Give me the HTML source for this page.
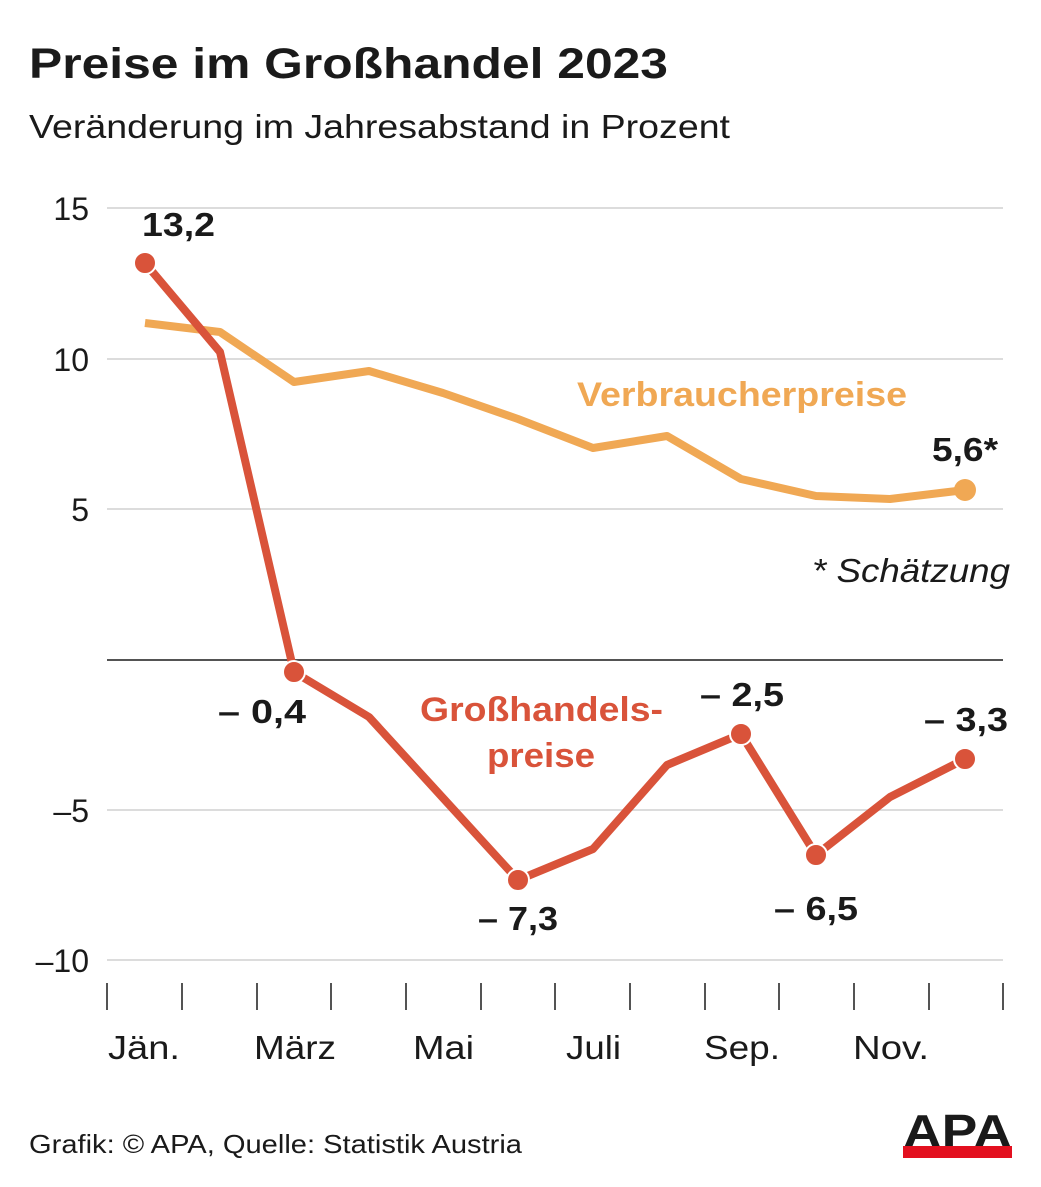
<!DOCTYPE html>
<html><head><meta charset="utf-8"><style>
html,body{margin:0;padding:0;background:#fff;}
body{width:1041px;height:1182px;overflow:hidden;font-family:"Liberation Sans",Arial,sans-serif;}
</style></head><body>
<svg width="1041" height="1182" xmlns="http://www.w3.org/2000/svg" font-family="Liberation Sans, Arial, sans-serif">
<text x="29" y="78" font-size="43" font-weight="bold" fill="#1a1a1a" textLength="639" lengthAdjust="spacingAndGlyphs">Preise im Großhandel 2023</text>
<text x="29" y="138" font-size="33" fill="#1a1a1a" textLength="701" lengthAdjust="spacingAndGlyphs">Veränderung im Jahresabstand in Prozent</text>
<g stroke="#d0d0d0" stroke-width="1.5">
<line x1="107" y1="208" x2="1003" y2="208"/>
<line x1="107" y1="359" x2="1003" y2="359"/>
<line x1="107" y1="509" x2="1003" y2="509"/>
<line x1="107" y1="810" x2="1003" y2="810"/>
<line x1="107" y1="960" x2="1003" y2="960"/>
</g>
<line x1="107" y1="660" x2="1003" y2="660" stroke="#1a1a1a" stroke-width="1.5"/>
<g font-size="32" fill="#1a1a1a" text-anchor="end">
<text x="89" y="220">15</text><text x="89" y="371">10</text><text x="89" y="521">5</text>
<text x="89" y="822">–5</text><text x="89" y="972">–10</text>
</g>
<g stroke="#1a1a1a" stroke-width="1.5">
<line x1="107" y1="983" x2="107" y2="1010"/><line x1="182" y1="983" x2="182" y2="1010"/>
<line x1="257" y1="983" x2="257" y2="1010"/><line x1="331" y1="983" x2="331" y2="1010"/>
<line x1="406" y1="983" x2="406" y2="1010"/><line x1="481" y1="983" x2="481" y2="1010"/>
<line x1="555" y1="983" x2="555" y2="1010"/><line x1="630" y1="983" x2="630" y2="1010"/>
<line x1="705" y1="983" x2="705" y2="1010"/><line x1="779" y1="983" x2="779" y2="1010"/>
<line x1="854" y1="983" x2="854" y2="1010"/><line x1="929" y1="983" x2="929" y2="1010"/>
<line x1="1003" y1="983" x2="1003" y2="1010"/>
</g>
<g font-size="33" fill="#1a1a1a">
<text x="108" y="1059" textLength="72" lengthAdjust="spacingAndGlyphs">Jän.</text>
<text x="254" y="1059" textLength="82" lengthAdjust="spacingAndGlyphs">März</text>
<text x="413" y="1059" textLength="61" lengthAdjust="spacingAndGlyphs">Mai</text>
<text x="566" y="1059" textLength="55" lengthAdjust="spacingAndGlyphs">Juli</text>
<text x="704" y="1059" textLength="76" lengthAdjust="spacingAndGlyphs">Sep.</text>
<text x="853" y="1059" textLength="76" lengthAdjust="spacingAndGlyphs">Nov.</text>
</g>
<polyline fill="none" stroke="#f0a854" stroke-width="8" stroke-linejoin="round" points="145,323 220,332 294,382 369,371 443,393 518,419 593,448 667,436 741,479 816,496 890,499 965,490"/>
<circle cx="965" cy="490" r="11" fill="#f0a854"/>
<polyline fill="none" stroke="#d9533a" stroke-width="8" stroke-linejoin="round" points="145,263 220,352 294,672 369,717 443,798 518,880 593,849 667,765 741,734 816,855 890,797 965,759"/>
<g fill="#d9533a" stroke="#fff" stroke-width="2">
<circle cx="145" cy="263" r="11"/><circle cx="294" cy="672" r="11"/><circle cx="518" cy="880" r="11"/>
<circle cx="741" cy="734" r="11"/><circle cx="816" cy="855" r="11"/><circle cx="965" cy="759" r="11"/>
</g>
<g font-size="33" font-weight="bold" fill="#1a1a1a">
<text x="142" y="236" textLength="73" lengthAdjust="spacingAndGlyphs">13,2</text>
<text x="218" y="723" textLength="88" lengthAdjust="spacingAndGlyphs">– 0,4</text>
<text x="478" y="930" textLength="80" lengthAdjust="spacingAndGlyphs">– 7,3</text>
<text x="700" y="706" textLength="84" lengthAdjust="spacingAndGlyphs">– 2,5</text>
<text x="774" y="920" textLength="84" lengthAdjust="spacingAndGlyphs">– 6,5</text>
<text x="924" y="731" textLength="84" lengthAdjust="spacingAndGlyphs">– 3,3</text>
<text x="932" y="461" textLength="66" lengthAdjust="spacingAndGlyphs">5,6*</text>
</g>
<text x="577" y="406" font-size="34" font-weight="bold" fill="#f0a854" textLength="330" lengthAdjust="spacingAndGlyphs">Verbraucherpreise</text>
<text x="420" y="721" font-size="34" font-weight="bold" fill="#d9533a" textLength="243" lengthAdjust="spacingAndGlyphs">Großhandels-</text>
<text x="487" y="767" font-size="34" font-weight="bold" fill="#d9533a" textLength="108" lengthAdjust="spacingAndGlyphs">preise</text>
<text x="812" y="582" font-size="33" font-style="italic" fill="#1a1a1a" textLength="198" lengthAdjust="spacingAndGlyphs">* Schätzung</text>
<text x="29" y="1153" font-size="26" fill="#1a1a1a" textLength="493" lengthAdjust="spacingAndGlyphs">Grafik: © APA, Quelle: Statistik Austria</text>
<text x="903" y="1147" font-size="46" font-weight="bold" fill="#1a1a1a" textLength="109" lengthAdjust="spacingAndGlyphs">APA</text>
<rect x="903" y="1146" width="109" height="12" fill="#e3101f"/>
</svg>
</body></html>
